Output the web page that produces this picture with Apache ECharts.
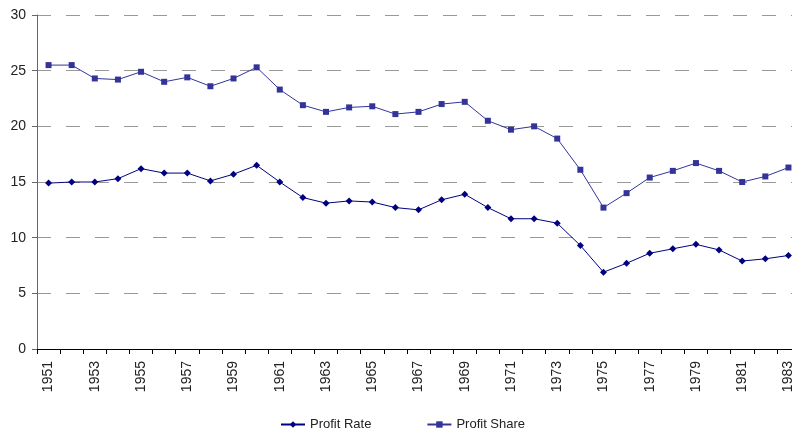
<!DOCTYPE html>
<html>
<head>
<meta charset="utf-8">
<script src="https://cdn.jsdelivr.net/npm/echarts@6/dist/echarts.min.js"></script>
<style>
  html, body { margin: 0; padding: 0; background: #fff; overflow: hidden; }
  #chart { width: 792px; height: 435px; }
</style>
</head>
<body>
<div id="chart"></div>
<script>
// years on the x axis
const years = [];
for (let y = 1951; y <= 1983; y++) years.push(String(y));

const profitRate = [
  14.9, 15.0, 15.0, 15.3, 16.2, 15.8, 15.8, 15.1, 15.7, 16.5,
  15.0, 13.6, 13.1, 13.3, 13.2, 12.7, 12.5, 13.4, 13.9, 12.7,
  11.7, 11.7, 11.3, 9.3, 6.9, 7.7, 8.6, 9.0, 9.4, 8.9,
  7.9, 8.1, 8.4
];

const profitShare = [
  25.5, 25.5, 24.3, 24.2, 24.9, 24.0, 24.4, 23.6, 24.3, 25.3,
  23.3, 21.9, 21.3, 21.7, 21.8, 21.1, 21.3, 22.0, 22.2, 20.5,
  19.7, 20.0, 18.9, 16.1, 12.7, 14.0, 15.4, 16.0, 16.7, 16.0,
  15.0, 15.5, 16.3
];

const yTicks = [0, 5, 10, 15, 20, 25, 30];

const font = "'Liberation Sans Narrow', 'Arial Narrow', 'Liberation Sans', Arial, sans-serif";

var myChart = echarts.init(document.getElementById('chart'));
myChart.setOption({
  animation: false,
  grid: {
    left: 37,
    top: 15,
    bottom: 86,
    width: 763, // plot runs past the right edge, last label is cut off
    containLabel: false,
    outerBoundsMode: 'none'
  },
  legend: {
    top: 418,
    left: 280,
    padding: 0,
    itemGap: 55,
    itemWidth: 24,
    itemHeight: 8,
    textStyle: { fontFamily: font, fontSize: 13, color: '#222' },
    data: ['Profit Rate', 'Profit Share']
  },
  xAxis: {
    type: 'category',
    data: years,
    boundaryGap: true,
    axisLine: { lineStyle: { color: '#000', width: 1 } },
    axisTick: { show: true, length: 5, interval: 0, lineStyle: { color: '#000' } },
    axisLabel: {
      interval: 1,
      rotate: 90,
      margin: 12,
      fontFamily: font,
      fontSize: 14,
      color: '#222'
    },
    splitLine: { show: false }
  },
  yAxis: {
    type: 'value',
    min: yTicks[0],
    max: yTicks[yTicks.length - 1],
    interval: 5,
    axisLine: { show: true, lineStyle: { color: '#666', width: 1 } },
    axisTick: { show: true, length: 5, lineStyle: { color: '#666' } },
    axisLabel: { margin: 11, fontFamily: font, fontSize: 14, color: '#222' },
    splitLine: {
      show: true,
      lineStyle: { color: '#999', width: 1, type: [14, 15] }
    }
  },
  series: [
    {
      name: 'Profit Rate',
      type: 'line',
      data: profitRate,
      symbol: 'diamond',
      symbolSize: 7,
      itemStyle: { color: '#000080' },
      lineStyle: { color: '#000080', width: 1 }
    },
    {
      name: 'Profit Share',
      type: 'line',
      data: profitShare,
      symbol: 'rect',
      symbolSize: 6,
      itemStyle: { color: '#333399' },
      lineStyle: { color: '#333399', width: 1 }
    }
  ]
});
</script>
</body>
</html>
